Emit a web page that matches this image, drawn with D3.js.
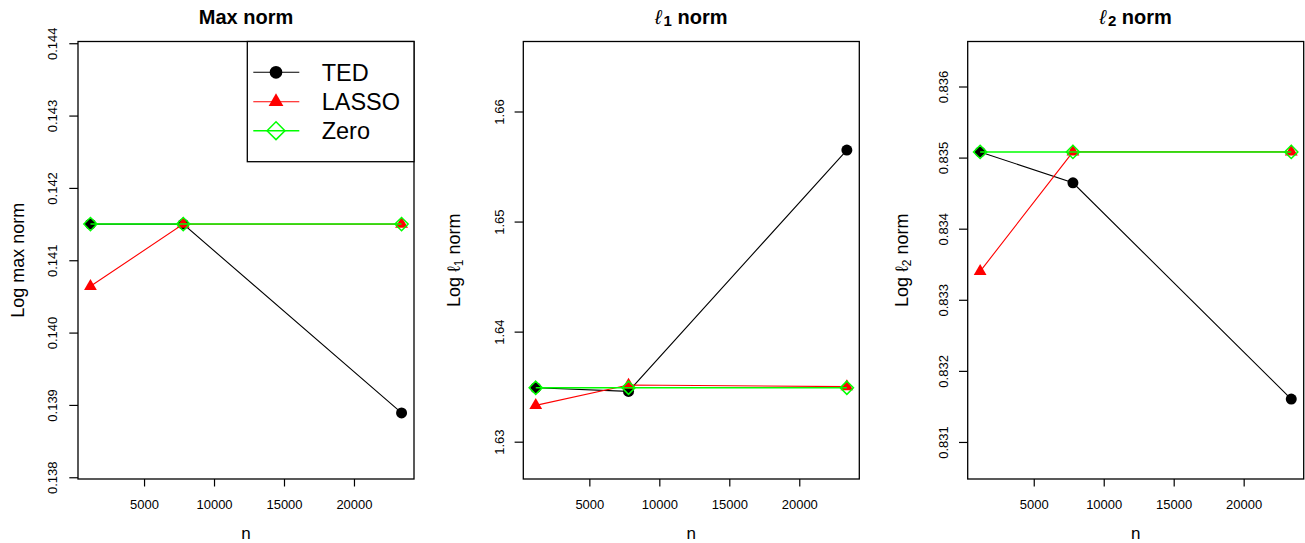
<!DOCTYPE html>
<html>
<head>
<meta charset="utf-8">
<script src="https://cdn.jsdelivr.net/npm/d3@7"></script>
<style>
  html, body { margin: 0; padding: 0; background: #fff; }
  svg { display: block; font-family: "Liberation Sans", Arial, Helvetica, sans-serif; }
</style>
</head>
<body>
<svg id="chart" width="1305" height="543"></svg>
<script>
// ---------------- data ----------------
const nValues = [1170, 7800, 23400];
const seriesNames = ["TED", "LASSO", "Zero"];

const maxTED   = [0.14150, 0.14150, 0.13889];
const maxLASSO = [0.14064, 0.14150, 0.14150];
const maxZero  = [0.14150, 0.14150, 0.14150];

const l1TED   = [1.63490, 1.63457, 1.65650];
const l1LASSO = [1.63330, 1.63515, 1.63500];
const l1Zero  = [1.63490, 1.63490, 1.63490];

const l2TED   = [0.835080, 0.834645, 0.831604];
const l2LASSO = [0.833400, 0.835080, 0.835080];
const l2Zero  = [0.835080, 0.835080, 0.835080];

const xTicks = [5000, 10000, 15000, 20000];
const maxTicks = [0.138, 0.139, 0.140, 0.141, 0.142, 0.143, 0.144];
const l1Ticks  = [1.63, 1.64, 1.65, 1.66];
const l2Ticks  = [0.831, 0.832, 0.833, 0.834, 0.835, 0.836];

const maxDomain = [0.137976, 0.144024];
const l1Domain  = [1.62661, 1.66636];
const l2Domain  = [0.830479, 0.836633];

// ---------------- layout / style ----------------
const colors = { TED: "#000000", LASSO: "#ff0000", Zero: "#00ff00" };
const plotTop = 41.5, plotBottom = 479, plotW = 336;
const panels = [
  { left: 78,    title: "max", yLab: "max", data: [maxTED, maxLASSO, maxZero], ticks: maxTicks, domain: maxDomain, fmt: d3.format(".3f"), tickOff: 21, labOff: 54 },
  { left: 523.3, title: "l1",  yLab: "l1",  data: [l1TED, l1LASSO, l1Zero],    ticks: l1Ticks,  domain: l1Domain,  fmt: d3.format(".2f"), tickOff: 19.5, labOff: 63.5 },
  { left: 967.7, title: "l2",  yLab: "l2",  data: [l2TED, l2LASSO, l2Zero],    ticks: l2Ticks,  domain: l2Domain,  fmt: d3.format(".3f"), tickOff: 19.5, labOff: 59.5 }
];

const svg = d3.select("#chart");
svg.append("rect").attr("width", 1305).attr("height", 543).attr("fill", "#fff");

// x domain with R-style 4% extension
const nExt = d3.extent(nValues);
const nPad = (nExt[1] - nExt[0]) * 0.04;

function drawMarker(g, type, x, y, s) {
  if (type === "TED") {
    g.append("circle").attr("cx", x).attr("cy", y).attr("r", 5.5 * s).attr("fill", "#000");
  } else if (type === "LASSO") {
    const hw = 6.4 * s, top = 7.3 * s, base = 3.65 * s;
    g.append("path")
      .attr("d", `M${x},${y - top}L${x + hw},${y + base}L${x - hw},${y + base}Z`)
      .attr("fill", "#ff0000");
  } else {
    const r = 6.6 * s;
    g.append("path")
      .attr("d", `M${x},${y - r}L${x + r},${y}L${x},${y + r}L${x - r},${y}Z`)
      .attr("fill", "none").attr("stroke", "#00ff00").attr("stroke-width", 1.5);
  }
}

panels.forEach((p, pi) => {
  const x = d3.scaleLinear().domain([nExt[0] - nPad, nExt[1] + nPad]).range([p.left, p.left + plotW]);
  const y = d3.scaleLinear().domain(p.domain).range([plotBottom, plotTop]);
  const g = svg.append("g");

  // series lines + markers (R drawing order: TED, LASSO, Zero)
  seriesNames.forEach((name, si) => {
    const vals = p.data[si];
    const line = d3.line().x((d, i) => x(nValues[i])).y(d => y(d));
    g.append("path").datum(vals).attr("d", line)
      .attr("fill", "none").attr("stroke", colors[name])
      .attr("stroke-width", name === "Zero" ? 1.5 : 1.1);
    vals.forEach((v, i) => drawMarker(g, name, x(nValues[i]), y(v), 1));
  });

  // box
  g.append("rect").attr("x", p.left).attr("y", plotTop)
    .attr("width", plotW).attr("height", plotBottom - plotTop)
    .attr("fill", "none").attr("stroke", "#000").attr("stroke-width", 1.3);

  // x axis
  const xa = svg.append("g").attr("transform", `translate(0,${plotBottom})`)
    .call(d3.axisBottom(x).tickValues(xTicks).tickSize(7.5).tickFormat(d3.format("d")));
  xa.select(".domain").remove();
  xa.selectAll("line").attr("stroke", "#000").attr("stroke-width", 1.2);
  xa.selectAll("text").attr("y", 30).attr("dy", 0)
    .attr("font-size", 13).attr("fill", "#000")
    .attr("font-family", "Liberation Sans, Arial, sans-serif");

  // y axis
  const ya = svg.append("g").attr("transform", `translate(${p.left},0)`)
    .call(d3.axisLeft(y).tickValues(p.ticks).tickSize(8.7).tickFormat(p.fmt));
  ya.select(".domain").remove();
  ya.selectAll("line").attr("stroke", "#000").attr("stroke-width", 1.2);
  ya.selectAll("text")
    .attr("transform", "rotate(-90)")
    .attr("x", 0).attr("y", -p.tickOff).attr("dy", 0)
    .attr("text-anchor", "middle")
    .attr("font-size", 13).attr("fill", "#000")
    .attr("font-family", "Liberation Sans, Arial, sans-serif");

  const cx = p.left + plotW / 2;
  const cy = (plotTop + plotBottom) / 2;

  // x label
  svg.append("text").attr("x", cx).attr("y", 538.5).attr("text-anchor", "middle")
    .attr("font-size", 17).text("n");

  // y label
  const yl = svg.append("text")
    .attr("transform", `translate(${p.left - p.labOff},${cy}) rotate(-90)`)
    .attr("text-anchor", "middle").attr("font-size", 18);
  if (p.yLab === "max") {
    yl.text("Log max norm");
  } else {
    yl.append("tspan").text("Log ℓ");
    yl.append("tspan").attr("font-size", 12).attr("dy", 3).text(p.yLab === "l1" ? "1" : "2");
    yl.append("tspan").attr("dy", -3).text(" norm");
  }

  // title
  const t = svg.append("text").attr("x", cx).attr("y", 23.5).attr("text-anchor", "middle")
    .attr("font-size", 20).attr("font-weight", "bold");
  if (p.title === "max") {
    t.text("Max norm");
  } else {
    t.append("tspan").attr("font-weight", "normal").attr("font-style", "italic").text("ℓ");
    t.append("tspan").attr("font-size", 15).attr("dy", 2).attr("dx", 2).text(p.title === "l1" ? "1" : "2");
    t.append("tspan").attr("dy", -2).text(" norm");
  }

  // legend in first panel
  if (pi === 0) {
    const lg = svg.append("g");
    const lx0 = 247.3, lx1 = p.left + plotW;
    lg.append("rect").attr("x", lx0).attr("y", plotTop).attr("width", lx1 - lx0).attr("height", 161.7 - plotTop)
      .attr("fill", "#fff").attr("stroke", "#000").attr("stroke-width", 1.3);
    const rowY = [72.3, 101.7, 130.7];
    seriesNames.forEach((name, si) => {
      lg.append("line").attr("x1", 253.3).attr("x2", 299.3).attr("y1", rowY[si]).attr("y2", rowY[si])
        .attr("stroke", colors[name]).attr("stroke-width", name === "Zero" ? 1.5 : 1.1);
      drawMarker(lg, name, 276, rowY[si], name === "Zero" ? 1.35 : 1.15);
      lg.append("text").attr("x", 321.7).attr("y", rowY[si] + 8.3)
        .attr("font-size", 23.5).text(name);
    });
  }
});
</script>
</body>
</html>
